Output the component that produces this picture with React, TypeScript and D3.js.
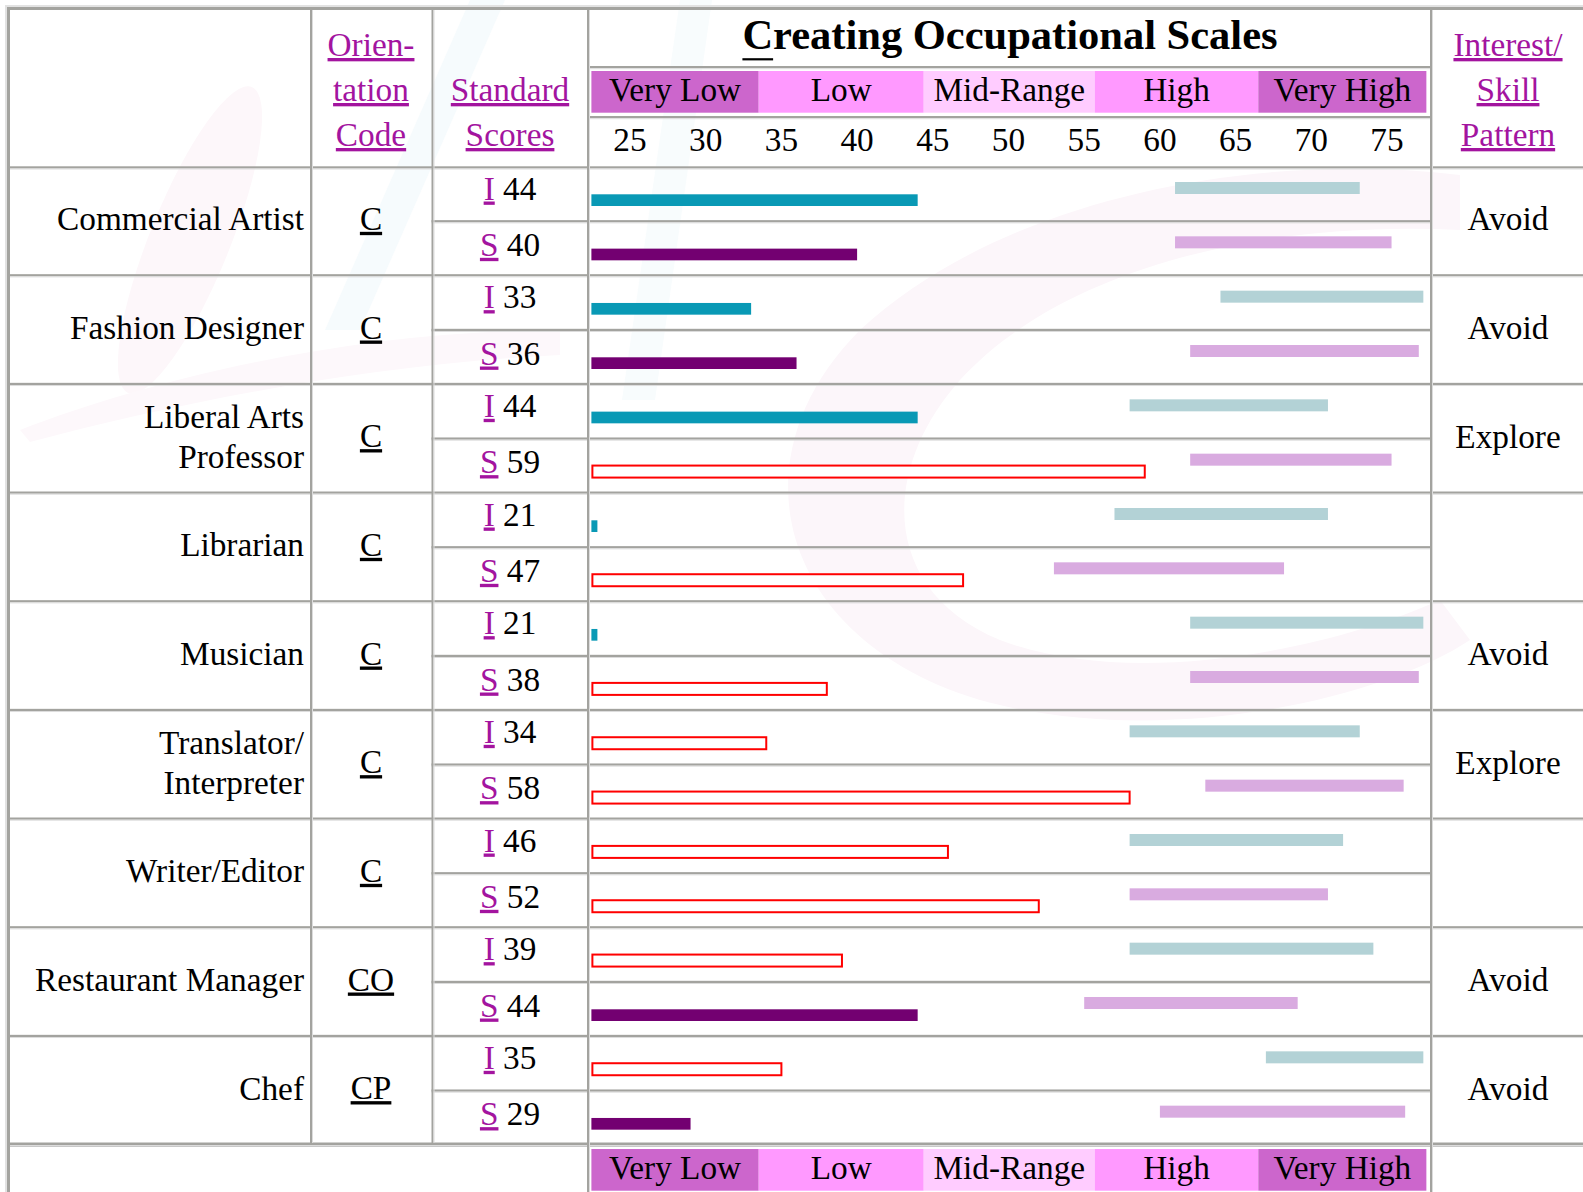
import React, { useEffect, useRef, useState } from "react";
import * as d3 from "d3";

// ---------- data ----------
const occupations = [
  "Commercial Artist",
  "Fashion Designer",
  "Liberal Arts|Professor",
  "Librarian",
  "Musician",
  "Translator/|Interpreter",
  "Writer/Editor",
  "Restaurant Manager",
  "Chef",
];
const codes = ["C", "C", "C", "C", "C", "C", "C", "CO", "CP"];
const iScores = [44, 33, 44, 21, 21, 34, 46, 39, 35];
const sScores = [40, 36, 59, 47, 38, 58, 52, 44, 29];
const iFilled = [true, true, true, true, true, false, false, false, false];
const sFilled = [true, true, false, false, false, false, false, true, true];
const iRangeLow = [61, 64, 58, 57, 62, 58, 58, 58, 67];
const iRangeHigh = [73.2, 77.4, 71.1, 71.1, 77.4, 73.2, 72.1, 74.1, 77.4];
const sRangeLow = [61, 62, 62, 53, 62, 63, 58, 55, 60];
const sRangeHigh = [75.3, 77.1, 75.3, 68.2, 77.1, 76.1, 71.1, 69.1, 76.2];
const patterns = ["Avoid", "Avoid", "Explore", "", "Avoid", "Explore", "", "Avoid", "Avoid"];
const bandLabels = ["Very Low", "Low", "Mid-Range", "High", "Very High"];
const bandEdges = [22.45, 33.5, 44.4, 55.7, 66.5, 77.6];
const bandColors = ["#cc66cc", "#ff99ff", "#ffccff", "#ff99ff", "#cc66cc"];
const tickValues = [25, 30, 35, 40, 45, 50, 55, 60, 65, 70, 75];
const barBase = 22.45;
const subRows = ["I", "S"];

// ---------- styles ----------
const W = 1583;
const H = 1192;
const LINK = "#a3149f";
const TEAL = "#0999b5";
const PURPLE = "#730071";
const TEAL_RANGE = "#b3d2d6";
const PINK_RANGE = "#d9abe0";
const RED = "#ff0000";
const DARK = "#a3a39f";
const LIGHT = "#dcdcdc";
const FONT = "'Liberation Serif', 'Times New Roman', Times, serif";
const FS = 33.3;

const x = d3.scaleLinear().domain([25, 75]).range([630, 1387]);
const rowBand = d3.scaleBand<string>().domain(occupations).range([167, 1145]);
const sub = d3.scaleBand<string>().domain(subRows).range([0, rowBand.bandwidth()]);

const COL_NAME_R = 310;
const COL_CODE_R = 431.5;
const COL_SCORE_R = 587;
const COL_CHART_R = 1430;

function HLine({ x1, x2, y }: { x1: number; x2: number; y: number }) {
  return (
    <g>
      <rect x={x1} y={y} width={x2 - x1} height={2.2} fill={DARK} />
      <rect x={x1} y={y + 2.2} width={x2 - x1} height={1} fill={LIGHT} />
    </g>
  );
}
function VLine({ x: xx, y1, y2 }: { x: number; y1: number; y2: number }) {
  return (
    <g>
      <rect x={xx} y={y1} width={2} height={y2 - y1} fill={DARK} />
      <rect x={xx + 2} y={y1} width={1} height={y2 - y1} fill={LIGHT} />
    </g>
  );
}

function Bands({ top, h, base }: { top: number; h: number; base: number }) {
  return (
    <g>
      {bandLabels.map((lab, i) => {
        const x0 = x(bandEdges[i]);
        const x1 = x(bandEdges[i + 1]);
        return (
          <g key={lab}>
            <rect x={x0} y={top} width={x1 - x0} height={h} fill={bandColors[i]} />
            <text x={(x0 + x1) / 2} y={base} textAnchor="middle" fontSize={FS} fill="#000">
              {lab}
            </text>
          </g>
        );
      })}
    </g>
  );
}

export default function App() {
  const titleRef = useRef<SVGTextElement>(null);
  const [ul, setUl] = useState<{ x: number; w: number } | null>(null);

  useEffect(() => {
    document.body.style.overflow = "hidden";
    const t = titleRef.current;
    if (t) {
      const total = t.getComputedTextLength();
      const cw = t.getSubStringLength(0, 1);
      setUl({ x: 1010 - total / 2, w: cw });
    }
  }, []);

  const headerLine = (txt: string, cx: number, y: number, key: string) => (
    <text key={key} x={cx} y={y} textAnchor="middle" fontSize={FS} fill={LINK} style={{ textDecoration: "underline" }}>
      {txt}
    </text>
  );

  return (
    <svg
      width={W}
      height={H}
      style={{ position: "fixed", left: 0, top: 0, background: "#fff" }}
      fontFamily={FONT}
    >
      <rect x={0} y={0} width={W} height={H} fill="#fff" />

      {/* faint watermark shapes */}
      <g>
        <ellipse cx={190} cy={240} rx={40} ry={165} transform="rotate(22 190 240)" fill="#fdf7fa" />
        <path d="M20,430 C150,380 350,330 560,330 L560,355 C360,365 170,405 30,442 Z" fill="#fdf8fb" />
        <path
          d="M1460,175 C1250,150 1000,200 860,330 C730,460 780,640 980,700 C1160,750 1380,700 1470,640 L1440,600 C1330,650 1130,690 1000,640 C880,590 880,470 960,380 C1060,270 1260,220 1460,230 Z"
          fill="#fcf6fa"
        />
        <path d="M470,0 L505,0 L360,330 L325,330 Z" fill="#f6fbfd" />
        <path d="M680,0 L712,0 L655,400 L622,400 Z" fill="#f8fcfd" />
      </g>

      {/* outer border */}
      <rect x={5} y={5} width={W - 5} height={2} fill="#e2e2e2" />
      <rect x={7} y={7} width={W - 7} height={3} fill={DARK} />
      <rect x={5} y={5} width={2} height={H - 5} fill="#e2e2e2" />
      <rect x={7} y={7} width={3} height={H - 7} fill={DARK} />

      {/* header: chart column */}
      <text ref={titleRef} x={1010} y={48.5} textAnchor="middle" fontSize={42.5} fontWeight="bold" fill="#000">
        Creating Occupational Scales
      </text>
      {ul && <rect x={ul.x} y={58.2} width={ul.w} height={2.2} fill="#000" />}
      <Bands top={71} h={41.7} base={101} />
      {tickValues.map((t) => (
        <text key={t} x={x(t)} y={150.7} textAnchor="middle" fontSize={FS} fill="#000">
          {t}
        </text>
      ))}

      {/* header: other columns */}
      {headerLine("Orien-", 371, 56, "o1")}
      {headerLine("tation", 371, 101, "o2")}
      {headerLine("Code", 371, 146, "o3")}
      {headerLine("Standard", 510, 101, "s1")}
      {headerLine("Scores", 510, 146, "s2")}
      {headerLine("Interest/", 1508, 56, "p1")}
      {headerLine("Skill", 1508, 101, "p2")}
      {headerLine("Pattern", 1508, 146, "p3")}

      {/* rows */}
      {occupations.map((occ, i) => {
        const top = rowBand(occ)!;
        const mid = top + rowBand.bandwidth() / 2;
        const lines = occ.split("|");
        const scores = [iScores[i], sScores[i]];
        const filled = [iFilled[i], sFilled[i]];
        const lows = [iRangeLow[i], sRangeLow[i]];
        const highs = [iRangeHigh[i], sRangeHigh[i]];
        return (
          <g key={occ}>
            {lines.map((ln, k) => (
              <text
                key={ln}
                x={304}
                y={mid + 9 + (k - (lines.length - 1) / 2) * 40}
                textAnchor="end"
                fontSize={FS}
                fill="#000"
              >
                {ln}
              </text>
            ))}
            <text x={371} y={mid + 8.5} textAnchor="middle" fontSize={FS} fill="#000" style={{ textDecoration: "underline" }}>
              {codes[i]}
            </text>
            {patterns[i] && (
              <text x={1508} y={mid + 9} textAnchor="middle" fontSize={FS} fill="#000">
                {patterns[i]}
              </text>
            )}
            {subRows.map((s, j) => {
              const st = top + sub(s)!;
              const v = scores[j];
              const x0 = x(barBase);
              const xv = x(v);
              return (
                <g key={s}>
                  <text x={510} y={st + (j === 0 ? 32.5 : 34.5)} textAnchor="middle" fontSize={FS} fill="#000">
                    <tspan fill={LINK} style={{ textDecoration: "underline" }}>
                      {s}
                    </tspan>
                    {" " + v}
                  </text>
                  <rect
                    x={x(lows[j])}
                    y={st + 15}
                    width={x(highs[j]) - x(lows[j])}
                    height={12}
                    fill={j === 0 ? TEAL_RANGE : PINK_RANGE}
                  />
                  {filled[j] ? (
                    <rect
                      x={x0}
                      y={st + 27.3}
                      width={Math.max(xv - x0, 6)}
                      height={11.7}
                      fill={j === 0 ? TEAL : PURPLE}
                    />
                  ) : (
                    <rect
                      x={x0 + 1}
                      y={st + 26.9}
                      width={xv - x0 - 1}
                      height={12}
                      fill="#fff"
                      stroke={RED}
                      strokeWidth={2}
                    />
                  )}
                </g>
              );
            })}
          </g>
        );
      })}

      {/* grid lines */}
      <HLine x1={10} x2={W} y={166.3} />
      <HLine x1={COL_SCORE_R} x2={COL_CHART_R} y={66} />
      <HLine x1={COL_SCORE_R} x2={COL_CHART_R} y={116} />
      {occupations.map((occ, i) => {
        const top = rowBand(occ)!;
        return (
          <g key={"g" + occ}>
            {i > 0 && <HLine x1={10} x2={W} y={top - 1.5} />}
            <HLine x1={COL_CODE_R} x2={COL_CHART_R} y={top + sub("S")! - 1.2} />
          </g>
        );
      })}
      <rect x={10} y={1142.5} width={W - 10} height={2.5} fill={DARK} />
      <rect x={10} y={1145} width={W - 10} height={1} fill={LIGHT} />
      <rect x={10} y={1146} width={W - 10} height={1} fill="#c8c8c8" />

      <VLine x={COL_NAME_R} y1={10} y2={1143} />
      <VLine x={COL_CODE_R} y1={10} y2={1143} />
      <VLine x={COL_SCORE_R} y1={10} y2={H} />
      <VLine x={COL_CHART_R} y1={10} y2={H} />

      {/* footer bands */}
      <Bands top={1149} h={41.7} base={1179} />
    </svg>
  );
}
